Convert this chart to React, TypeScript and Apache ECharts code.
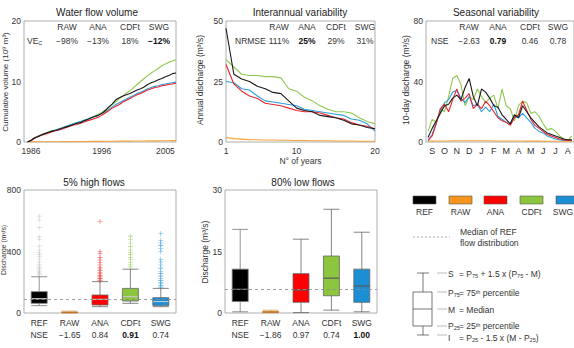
import { useEffect, useRef } from 'react';
import * as echarts from 'echarts';

const FONT = '"Liberation Sans", Arial, sans-serif';
const TXT = '#333';
const COLORS: Record<string, string> = {
  REF: '#1a1a1a',
  RAW: '#f6a23c',
  ANA: '#e8262c',
  CDFt: '#92c84f',
  SWG: '#2b9ddf',
};
const BOX_COLORS: Record<string, string> = {
  REF: '#000000',
  RAW: '#f7941d',
  ANA: '#ff0000',
  CDFt: '#8cc63e',
  SWG: '#1b8ed4',
};

const methods = ['REF', 'RAW', 'ANA', 'CDFt', 'SWG'];
const lineOrder = ['RAW', 'CDFt', 'SWG', 'ANA', 'REF'];

// Panel 1: cumulative volume
const volTime = [
  1985.5, 1986, 1986.5, 1987, 1987.5, 1988, 1988.5, 1989, 1989.5, 1990, 1990.5,
  1991, 1991.5, 1992, 1992.5, 1993, 1993.5, 1994, 1994.5, 1995, 1995.5, 1996,
  1996.5, 1997, 1997.5, 1998, 1998.5, 1999, 1999.5, 2000, 2000.5, 2001, 2001.5,
  2002, 2002.5, 2003, 2003.5, 2004, 2004.5, 2005, 2005.5, 2006, 2006.5,
];
const volume: Record<string, number[]> = {
  REF: [0, 0.3, 0.7, 0.9, 1.2, 1.4, 1.6, 1.8, 1.9, 2.1, 2.3, 2.5, 2.7, 2.9, 3.1, 3.2, 3.5, 3.7, 4.0, 4.2, 4.4, 4.7, 5.2, 5.8, 6.3, 7.0, 7.3, 7.6, 7.8, 8.0, 8.3, 8.6, 8.8, 9.1, 9.5, 9.8, 10.0, 10.3, 10.5, 10.8, 11.0, 11.3, 11.4],
  CDFt: [0, 0.3, 0.7, 1.0, 1.2, 1.5, 1.7, 1.9, 2.0, 2.2, 2.4, 2.6, 2.8, 3.0, 3.2, 3.4, 3.6, 3.8, 4.0, 4.3, 4.6, 4.9, 5.3, 5.7, 6.2, 6.7, 7.2, 7.6, 8.1, 8.5, 9.0, 9.5, 10.0, 10.5, 11.0, 11.4, 11.8, 12.2, 12.6, 12.9, 13.2, 13.4, 13.6],
  ANA: [0, 0.2, 0.6, 0.9, 1.1, 1.3, 1.5, 1.7, 1.9, 2.0, 2.2, 2.4, 2.6, 2.8, 2.9, 3.1, 3.3, 3.5, 3.7, 3.9, 4.1, 4.4, 4.8, 5.2, 5.6, 5.9, 6.2, 6.6, 6.9, 7.2, 7.5, 7.8, 8.0, 8.3, 8.6, 8.8, 9.0, 9.1, 9.3, 9.4, 9.5, 9.6, 9.7],
  SWG: [0, 0.3, 0.6, 0.9, 1.2, 1.4, 1.6, 1.8, 2.0, 2.2, 2.4, 2.6, 2.8, 3.0, 3.2, 3.4, 3.6, 3.8, 4.0, 4.2, 4.4, 4.7, 5.0, 5.4, 5.8, 6.2, 6.5, 6.8, 7.1, 7.4, 7.7, 8.0, 8.2, 8.5, 8.8, 9.0, 9.2, 9.3, 9.5, 9.6, 9.7, 9.8, 9.9],
  RAW: [0, 0.01, 0.02, 0.02, 0.03, 0.03, 0.04, 0.04, 0.05, 0.05, 0.06, 0.06, 0.07, 0.07, 0.08, 0.08, 0.09, 0.09, 0.1, 0.1, 0.11, 0.11, 0.12, 0.12, 0.13, 0.13, 0.14, 0.14, 0.15, 0.15, 0.16, 0.16, 0.17, 0.17, 0.18, 0.18, 0.19, 0.19, 0.2, 0.2, 0.21, 0.22, 0.23],
};
const volTicks = [1986, 1996, 2005];

// Panel 2: ranked annual discharge
const ranks = [1, 2, 3, 4, 5, 6, 7, 8, 9, 10, 11, 12, 13, 14, 15, 16, 17, 18, 19, 20];
const annual: Record<string, number[]> = {
  REF: [47, 28, 26, 25, 23, 22, 20.5, 20, 17, 14, 13, 12.5, 11, 10.5, 10, 9, 7.5, 7, 6, 5.5],
  ANA: [32, 24, 21, 19, 18, 16, 15.5, 15, 14, 13, 12.5, 12.5, 12, 11, 10, 9.5, 8, 7, 6.5, 5.5],
  CDFt: [34, 31, 28, 27.5, 27.5, 27, 27, 26.5, 22, 21, 18.5, 17, 15, 13.5, 12.5, 12.5, 12, 10, 8.5, 7.5],
  SWG: [25, 24.5, 22, 21.5, 19, 17, 16.5, 16, 15.5, 15, 13.5, 13, 12.5, 12, 11.5, 11, 9.5, 9, 7.5, 4.5],
  RAW: [1.8, 1.4, 1.2, 1.0, 0.9, 0.8, 0.8, 0.7, 0.7, 0.6, 0.6, 0.5, 0.5, 0.5, 0.4, 0.4, 0.4, 0.3, 0.3, 0.3],
};
const rankTicks = [1, 10, 20];

// Panel 3: 10-day discharge (36 dekads, Sep -> Aug)
const months = ['S', 'O', 'N', 'D', 'J', 'F', 'M', 'A', 'M', 'J', 'J', 'A'];
const dekads = ['S1','S2','S3','O1','O2','O3','N1','N2','N3','D1','D2','D3','J1','J2','J3','F1','F2','F3','Mr1','Mr2','Mr3','A1','A2','A3','My1','My2','My3','Jn1','Jn2','Jn3','Jl1','Jl2','Jl3','Au1','Au2','Au3'];
const seasonal: Record<string, number[]> = {
  REF: [3, 9, 14, 19, 24, 25, 29, 31, 28, 36, 42, 30, 24, 35, 33, 29, 24, 23, 18, 15, 12, 18, 16, 24, 20, 16, 13, 10, 8, 6, 5, 4, 3, 2, 1.5, 1.5],
  ANA: [1, 4, 12, 22, 25, 20, 28, 35, 27, 29, 32, 22, 25, 22, 27, 24, 20, 16, 14, 13, 11, 16, 18, 27, 21, 15, 11, 9, 7, 5, 4, 3, 2, 1.5, 1, 1],
  SWG: [1, 5, 13, 20, 26, 28, 33, 34, 29, 26, 30, 24, 25, 20, 23, 20, 25, 17, 15, 13, 12, 17, 16, 19, 16, 13, 9, 7, 6, 4, 3, 2, 1.5, 1, 1, 1],
  CDFt: [7, 15, 13, 22, 20, 30, 42, 44, 38, 24, 30, 28, 35, 30, 26, 29, 31, 22, 35, 24, 22, 14, 24, 27, 26, 19, 20, 17, 12, 8, 9, 7, 4, 2, 1, 4],
  RAW: [0.6, 0.6, 0.7, 0.7, 0.7, 0.7, 0.8, 0.8, 0.8, 0.8, 0.8, 0.8, 0.8, 0.8, 0.8, 0.8, 0.7, 0.7, 0.7, 0.7, 0.7, 0.7, 0.7, 0.7, 0.6, 0.6, 0.6, 0.6, 0.5, 0.5, 0.5, 0.5, 0.5, 0.5, 0.5, 0.5],
};

// Panel 4: 5% high flows  [min, Q1, median, Q3, max]
const highBoxes = [
  [48, 63, 93, 139, 236],
  [0, 2, 4, 7, 12],
  [41, 52, 89, 117, 204],
  [63, 78, 106, 160, 285],
  [41, 48, 74, 100, 160],
];
const highOutliers: number[][] = [
  [630, 605, 555, 495, 480, 435, 410, 392, 380, 365, 345, 330, 315, 300, 290, 280, 270, 262, 255, 248],
  [],
  [595, 400, 385, 362, 345, 330, 312, 298, 286, 275, 265, 255, 245, 235, 225, 215, 210],
  [500, 480, 455, 432, 410, 395, 380, 362, 346, 330, 315, 300],
  [515, 470, 455, 440, 420, 400, 350, 332, 312, 292, 272, 256, 240, 226, 212, 200, 190, 178, 168],
];
const highNSE = ['NSE', '−1.65', '0.84', '0.91', '0.74'];
const highBest = 3;
const highRefMedian = 91;

// Panel 5: 80% low flows
const lowBoxes = [
  [0.3, 2.8, 5.8, 10.7, 20.4],
  [0.05, 0.15, 0.25, 0.4, 0.7],
  [0.1, 2.6, 5.6, 9.6, 18],
  [0.7, 4.2, 8.5, 13.9, 25.3],
  [0.3, 2.6, 6.6, 10.7, 19.7],
];
const lowNSE = ['NSE', '−1.86', '0.97', '0.74', '1.00'];
const lowBest = 4;
const lowRefMedian = 5.8;

// Score tables
const volScores = ['−98%', '−13%', '18%', '−12%'];
const volBest = 3;
const annScores = ['111%', '25%', '29%', '31%'];
const annBest = 1;
const seaScores = ['−2.63', '0.79', '0.46', '0.78'];
const seaBest = 1;

// Axis titles
const yTitles = ['Cumulative volume (10⁹ m³)', 'Annual discharge (m³/s)', '10-day discharge (m³/s)', 'Discharge (m³/s)', 'Discharge (m³/s)'];

const CROSS = 'path://M0,4.4H10V5.6H0Z M4.4,0H5.6V10H4.4Z';

function axisLabelStyle(extra: any = {}) {
  return { color: TXT, fontSize: 8.5, fontFamily: FONT, margin: 3, ...extra };
}

export default function App() {
  const ref = useRef<HTMLDivElement>(null);
  useEffect(() => {
    if (!ref.current) return;
    const chart = echarts.init(ref.current, undefined, { renderer: 'svg' });

    const grids = [
      { left: 24, top: 21, width: 152, height: 121 },
      { left: 226, top: 21, width: 149, height: 121 },
      { left: 426, top: 21, width: 152, height: 121 },
      { left: 24, top: 190, width: 152, height: 123 },
      { left: 225, top: 190, width: 152, height: 123 },
    ].map((g) => ({ ...g, show: true, borderColor: '#9a9a9a', borderWidth: 0.8, backgroundColor: 'transparent' }));

    const hidden = { axisLine: { show: false }, axisTick: { show: false }, splitLine: { show: false } };
    const nameStyle = { color: TXT, fontSize: 8.5, fontFamily: FONT };

    const boxLabel = (nse: string[], best: number) => ({
      ...axisLabelStyle({ margin: 4, lineHeight: 12, interval: 0 }),
      formatter: (v: string, i: number) => (i === best ? `${v}\n{b|${nse[i]}}` : `${v}\n${nse[i]}`),
      rich: { b: { fontWeight: 'bold', fontSize: 8.5, fontFamily: FONT, color: '#111', lineHeight: 12 } },
    });
    const plain = (v: number) => String(v);

    const xAxis: any[] = [
      { type: 'value', gridIndex: 0, min: 1985, max: 2006.5, ...hidden, axisLabel: axisLabelStyle({ customValues: volTicks, margin: 4, formatter: plain }) },
      { type: 'value', gridIndex: 1, min: 1, max: 20, ...hidden, axisLabel: axisLabelStyle({ customValues: rankTicks, margin: 4, formatter: plain }),
        name: 'N° of years', nameLocation: 'middle', nameGap: 14, nameTextStyle: nameStyle },
      { type: 'category', gridIndex: 2, data: dekads, boundaryGap: true, ...hidden,
        axisLabel: axisLabelStyle({ margin: 4, fontSize: 9, interval: (i: number) => i % 3 === 1, formatter: (_v: string, i: number) => months[Math.floor(i / 3)] }) },
      { type: 'category', gridIndex: 3, data: methods, ...hidden, axisLabel: boxLabel(highNSE, highBest) },
      { type: 'category', gridIndex: 4, data: methods, ...hidden, axisLabel: boxLabel(lowNSE, lowBest) },
    ];

    const yAxis: any[] = [
      { type: 'value', gridIndex: 0, min: 0, max: 20, interval: 10, ...hidden, axisLabel: axisLabelStyle() },
      { type: 'value', gridIndex: 1, min: 0, max: 50, interval: 25, ...hidden, axisLabel: axisLabelStyle() },
      { type: 'value', gridIndex: 2, min: 0, max: 80, interval: 40, ...hidden, axisLabel: axisLabelStyle() },
      { type: 'value', gridIndex: 3, min: 0, max: 800, interval: 400, ...hidden, axisLabel: axisLabelStyle() },
      { type: 'value', gridIndex: 4, min: 0, max: 30, interval: 15, ...hidden, axisLabel: axisLabelStyle() },
    ];

    const series: any[] = [];
    lineOrder.forEach((m) => {
      series.push({ type: 'line', xAxisIndex: 0, yAxisIndex: 0, showSymbol: false, data: volTime.map((t, i) => [t, volume[m][i]]), lineStyle: { color: COLORS[m], width: 1.1 }, itemStyle: { color: COLORS[m] } });
      series.push({ type: 'line', xAxisIndex: 1, yAxisIndex: 1, showSymbol: false, data: ranks.map((r, i) => [r, annual[m][i]]), lineStyle: { color: COLORS[m], width: 1.1 }, itemStyle: { color: COLORS[m] } });
      series.push({ type: 'line', xAxisIndex: 2, yAxisIndex: 2, showSymbol: false, data: seasonal[m], lineStyle: { color: COLORS[m], width: 1.1 }, itemStyle: { color: COLORS[m] } });
    });

    const outlierColors = ['#c4c4c4', COLORS.RAW, '#ee3a3a', '#9ccc5a', '#2f9ee0'];
    highOutliers.forEach((vals, ci) => {
      if (!vals.length) return;
      series.push({ type: 'scatter', xAxisIndex: 3, yAxisIndex: 3, symbol: CROSS, symbolSize: 5, data: vals.map((v) => [ci, v]), itemStyle: { color: outlierColors[ci] }, z: 1 });
    });

    const boxBorder = ['#777', '#b86a1a', '#666', '#666', '#666'];
    const boxSeries = (boxes: number[][], xi: number, refMedian: number) => ({
      type: 'boxplot', xAxisIndex: xi, yAxisIndex: xi, boxWidth: [16, 16], z: 3,
      data: boxes.map((b, i) => ({ value: b, itemStyle: { color: BOX_COLORS[methods[i]], borderColor: boxBorder[i], borderWidth: i === 1 ? 0.5 : 0.8 } })),
      markLine: { silent: true, symbol: 'none', label: { show: false }, lineStyle: { type: [3, 3], color: '#8a8a8a', width: 0.8 }, data: [{ yAxis: refMedian }], z: 5 },
    });
    series.push(boxSeries(highBoxes, 3, highRefMedian));
    series.push(boxSeries(lowBoxes, 4, lowRefMedian));
    series.push({ type: 'scatter', xAxisIndex: 3, yAxisIndex: 3, symbol: 'rect', symbolSize: [15, 1], z: 4,
      data: highBoxes.map((b, i) => [i, b[2]]).filter((_, i) => i !== 1), itemStyle: { color: '#f0f0f0' } });
    series.push({ type: 'scatter', xAxisIndex: 4, yAxisIndex: 4, symbol: 'rect', symbolSize: [15, 1], z: 4,
      data: lowBoxes.map((b, i) => [i, b[2]]).filter((_, i) => i !== 1), itemStyle: { color: '#555' } });

    const t = (x: number, y: number, text: string, opts: any = {}) => ({
      type: 'text', x, y, silent: true,
      style: { text, fill: TXT, fontSize: 8.5, fontFamily: FONT, align: 'center', verticalAlign: 'middle', ...opts },
    });
    const subRich = {
      s: { fontSize: 5.5, fontFamily: FONT, fill: TXT, verticalAlign: 'bottom', lineHeight: 7 },
      p: { fontSize: 5.5, fontFamily: FONT, fill: TXT, verticalAlign: 'top', lineHeight: 7 },
      n: { fontSize: 8.5, fontFamily: FONT, fill: TXT, lineHeight: 9 },
    };

    const g: any[] = [];
    g.push(t(97, 12, 'Water flow volume', { fontSize: 10, fill: '#222' }));
    g.push(t(300, 12, 'Interannual variability', { fontSize: 10, fill: '#222' }));
    g.push(t(496, 12, 'Seasonal variability', { fontSize: 10, fill: '#222' }));
    g.push(t(94, 182, '5% high flows', { fontSize: 10, fill: '#222' }));
    g.push(t(303, 182, '80% low flows', { fontSize: 10, fill: '#222' }));

    // rotated y-axis titles
    const yTitlePos = [[5, 82], [200, 80], [406, 80], [3.4, 250], [205, 252]];
    const yTitleSize = [8, 8.5, 8.5, 6.8, 8.5];
    yTitles.forEach((txt, i) => {
      g.push({ ...t(yTitlePos[i][0], yTitlePos[i][1], txt, { fontSize: yTitleSize[i] }), rotation: Math.PI / 2 });
    });

    const scoreTable = (xs: number[], name: any, scores: string[], best: number) => {
      methods.slice(1).forEach((m, i) => g.push(t(xs[i], 27, m)));
      g.push(name);
      scores.forEach((s, i) => g.push(t(xs[i], 41, s, i === best ? { fontWeight: 'bold', fill: '#111' } : {})));
    };
    scoreTable([67, 98, 130, 159],
      { type: 'text', x: 27, y: 41, silent: true, style: { text: '{n|VE}{s|C}', rich: subRich, align: 'left', verticalAlign: 'middle' } },
      volScores, volBest);
    scoreTable([279, 307, 336, 365], t(235, 41, 'NRMSE', { align: 'left' }), annScores, annBest);
    scoreTable([469, 498, 530, 558], t(431, 41, 'NSE', { align: 'left' }), seaScores, seaBest);

    // legend
    const legX = [413, 449, 484, 520, 556];
    methods.forEach((m, i) => {
      g.push({ type: 'rect', silent: true, shape: { x: legX[i], y: 196, width: 23, height: 8 }, style: { fill: BOX_COLORS[m], stroke: '#555', lineWidth: 0.6 } });
      g.push(t(i === 4 ? 563 : legX[i] + 11.5, 212, m));
    });
    g.push({ type: 'line', silent: true, shape: { x1: 413, y1: 237, x2: 450, y2: 237 }, style: { stroke: '#999', lineWidth: 0.8, lineDash: [2, 2] } });
    g.push(t(460, 232, 'Median of REF', { align: 'left' }));
    g.push(t(460, 243, 'flow distribution', { align: 'left' }));

    // boxplot key
    const ks = { stroke: '#555', lineWidth: 0.8, fill: 'none' };
    g.push({ type: 'line', silent: true, shape: { x1: 417, y1: 273, x2: 429, y2: 273 }, style: ks });
    g.push({ type: 'line', silent: true, shape: { x1: 423, y1: 273, x2: 423, y2: 292 }, style: ks });
    g.push({ type: 'rect', silent: true, shape: { x: 413, y: 292, width: 19, height: 34 }, style: ks });
    g.push({ type: 'line', silent: true, shape: { x1: 413, y1: 309, x2: 432, y2: 309 }, style: ks });
    g.push({ type: 'line', silent: true, shape: { x1: 423, y1: 326, x2: 423, y2: 335 }, style: ks });
    g.push({ type: 'line', silent: true, shape: { x1: 417, y1: 335, x2: 429, y2: 335 }, style: ks });
    [273, 292, 309, 326, 335].forEach((y) => {
      g.push({ type: 'line', silent: true, shape: { x1: 437, y1: y, x2: 447, y2: y }, style: { stroke: '#aaa', lineWidth: 0.8 } });
    });
    const keyRow = (y: number, label: string, rest: string) => {
      g.push({ type: 'text', x: 448, y, silent: true, style: { text: label, rich: subRich, align: 'left', verticalAlign: 'middle' } });
      g.push({ type: 'text', x: 459, y, silent: true, style: { text: rest, rich: subRich, align: 'left', verticalAlign: 'middle' } });
    };
    keyRow(274, '{n|S}', '{n|= P}{s|75}{n| + 1.5 x (P}{s|75}{n| - M)}');
    keyRow(293, '{n|P}{s|75}', '{n|= 75}{p|th}{n| percentile}');
    keyRow(310, '{n|M}', '{n|= Median}');
    keyRow(326, '{n|P}{s|25}', '{n|= 25}{p|th}{n| percentile}');
    keyRow(338, '{n|I}', '{n|= P}{s|25}{n| - 1.5 x (M - P}{s|25}{n|)}');

    chart.setOption({
      animation: false,
      textStyle: { fontFamily: FONT },
      grid: grids,
      xAxis,
      yAxis,
      series,
      graphic: g,
    });
    return () => chart.dispose();
  }, []);
  return <div ref={ref} style={{ position: 'fixed', left: 0, top: 0, width: 574, height: 348, background: '#fff' }} />;
}
